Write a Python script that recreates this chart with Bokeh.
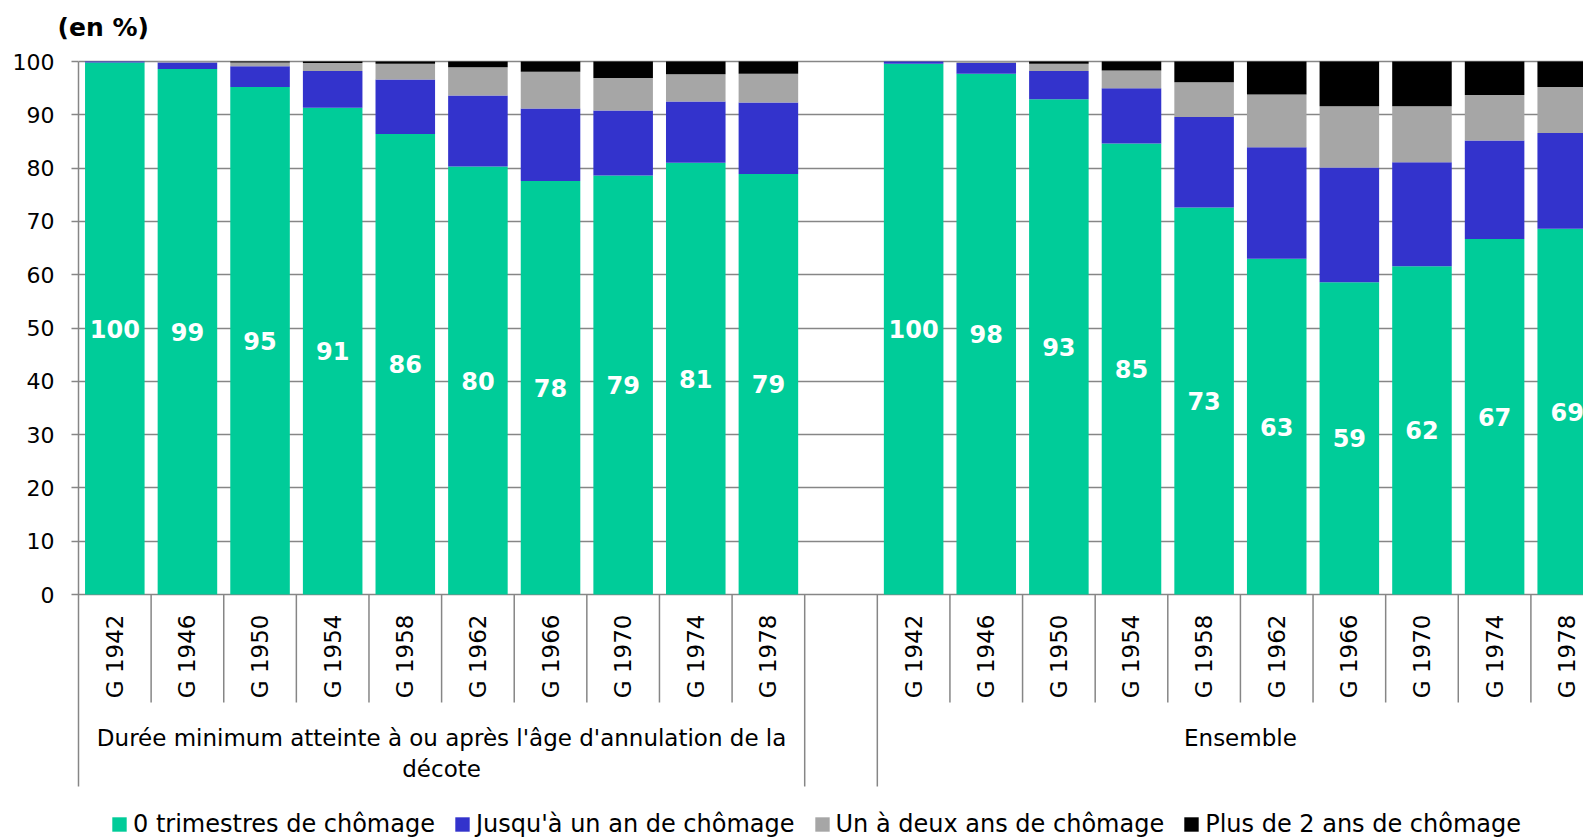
import math
from bokeh.plotting import figure
from bokeh.models import ColumnDataSource, Range1d, FixedTicker, Title
from bokeh.embed import file_html
from bokeh.resources import INLINE
from bokeh.core.properties import value

# ---------------- data ----------------
groups = ["Durée minimum atteinte à ou après l'âge d'annulation de la\ndécote", "Ensemble"]
generations = ["G 1942", "G 1946", "G 1950", "G 1954", "G 1958",
               "G 1962", "G 1966", "G 1970", "G 1974", "G 1978"]
series_names = ["0 trimestres de chômage", "Jusqu'à un an de chômage",
                "Un à deux ans de chômage", "Plus de 2 ans de chômage"]
colors = ["#00CC99", "#3333CC", "#A6A6A6", "#000000"]

# Group 1 : Durée minimum atteinte à ou après l'âge d'annulation de la décote
g1_zero = [99.8, 98.6, 95.2, 91.3, 86.4, 80.3, 77.6, 78.6, 81.0, 78.9]
g1_upto1 = [0.2, 1.2, 3.9, 6.9, 10.2, 13.3, 13.6, 12.2, 11.5, 13.4]
g1_one2 = [0.0, 0.2, 0.7, 1.5, 3.0, 5.3, 6.9, 6.1, 5.1, 5.4]
g1_over2 = [0.0, 0.0, 0.2, 0.3, 0.4, 1.1, 1.9, 3.1, 2.4, 2.3]

# Group 2 : Ensemble
g2_zero = [99.6, 97.7, 92.9, 84.6, 72.6, 63.0, 58.6, 61.6, 66.7, 68.6]
g2_upto1 = [0.4, 2.0, 5.3, 10.4, 17.0, 20.9, 21.5, 19.5, 18.5, 18.0]
g2_one2 = [0.0, 0.3, 1.4, 3.3, 6.5, 9.9, 11.5, 10.5, 8.5, 8.6]
g2_over2 = [0.0, 0.0, 0.4, 1.7, 3.9, 6.2, 8.4, 8.4, 6.3, 4.8]

y_ticks = list(range(0, 101, 10))

# ---------------- layout helpers ----------------
n = len(generations)
slot = n + 1  # one empty slot between groups

xs, cats, zero, upto1, one2, over2 = [], [], [], [], [], []
for gi, (z, a, b, c) in enumerate([(g1_zero, g1_upto1, g1_one2, g1_over2),
                                    (g2_zero, g2_upto1, g2_one2, g2_over2)]):
    off = gi * slot
    for i in range(n):
        xs.append(off + i + 0.5)
        cats.append(generations[i])
    zero += z
    upto1 += a
    one2 += b
    over2 += c

keys = ["zero", "upto1", "one2", "over2"]
src = ColumnDataSource(dict(
    x=xs, cat=cats, zero=zero, upto1=upto1, one2=one2, over2=over2,
    lab=[str(int(round(v))) for v in zero],
    lab_y=[v / 2 for v in zero],
))

PX = 5.33          # pixels per percentage point
TOP = 50           # frame top (px)
ZERO = 594         # pixel row of the 0 line
y_end = 100 + (61 - TOP) / PX
y_start = -(838 - ZERO) / PX
x_end = 1505 / 72.62

p = figure(width=1583, height=838, output_backend="svg", toolbar_location=None,
           x_range=Range1d(0, x_end), y_range=Range1d(y_start, y_end),
           x_axis_location=None, min_border=0, min_border_left=78,
           min_border_right=0, min_border_top=TOP, min_border_bottom=0)
p.outline_line_color = None
p.xgrid.visible = False

# "(en %)"
p.add_layout(Title(text="(en %)", align="left", offset=-21,
                   text_font="DejaVu Sans", text_font_style="bold",
                   text_font_size="25px", text_color="#000000",
                   standoff=18), "above")

# y axis
ya = p.yaxis[0]
ya.ticker = FixedTicker(ticks=y_ticks)
ya.bounds = (-192 / PX, 100)
ya.axis_line_color = "#868686"
ya.axis_line_width = 1.5
ya.major_tick_line_color = "#868686"
ya.major_tick_line_width = 1.5
ya.major_tick_out = 7
ya.major_tick_in = 0
ya.minor_tick_line_color = None
ya.major_label_standoff = 17
ya.major_label_text_font = "DejaVu Sans"
ya.major_label_text_font_size = "22px"
ya.major_label_text_color = "#000000"

p.ygrid.ticker = FixedTicker(ticks=y_ticks)
p.ygrid.grid_line_color = "#868686"
p.ygrid.grid_line_width = 1.5

# stacked bars
p.vbar_stack(keys, x="x", width=0.82, color=colors, line_color=None,
             source=src, legend_label=series_names)

# value labels inside green bars
p.text(x="x", y="lab_y", text="lab", source=src, text_color="white",
       text_font=value("DejaVu Sans"), text_font_style="bold",
       text_font_size="24px", text_align="center", text_baseline="middle")

# category separators and labels below the axis
short_x, long_x = [], []
for gi in range(len(groups)):
    off = gi * slot
    short_x += [off + k for k in range(1, n)]
    long_x += [off + n]
    if gi > 0:
        long_x += [off]
p.segment(x0=short_x, y0=[0] * len(short_x), x1=short_x,
          y1=[-108 / PX] * len(short_x), line_color="#868686", line_width=1.5)
p.segment(x0=long_x, y0=[0] * len(long_x), x1=long_x,
          y1=[-192 / PX] * len(long_x), line_color="#868686", line_width=1.5)

p.text(x="x", y=-20 / PX, text="cat", source=src, angle=math.pi / 2,
       text_font=value("DejaVu Sans"), text_font_size="23px",
       text_color="#000000", text_align="right", text_baseline="middle")

gsrc = ColumnDataSource(dict(x=[gi * slot + n / 2 for gi in range(len(groups))],
                             t=groups))
p.text(x="x", y=-130 / PX, text="t", source=gsrc,
       text_font=value("DejaVu Sans"), text_font_size="23px",
       text_color="#000000", text_align="center", text_baseline="top",
       text_line_height=1.23)

# legend
lg = p.legend[0]
lg.orientation = "horizontal"
lg.location = (32, 0)
lg.glyph_width = 18
lg.glyph_height = 18
lg.label_standoff = 5
lg.spacing = 18
lg.padding = 0
lg.margin = 0
lg.border_line_color = None
lg.background_fill_alpha = 0
lg.label_text_font = "DejaVu Sans"
lg.label_text_font_size = "24px"
lg.label_text_color = "#000000"

open("out.html", "w").write(file_html(p, INLINE))
